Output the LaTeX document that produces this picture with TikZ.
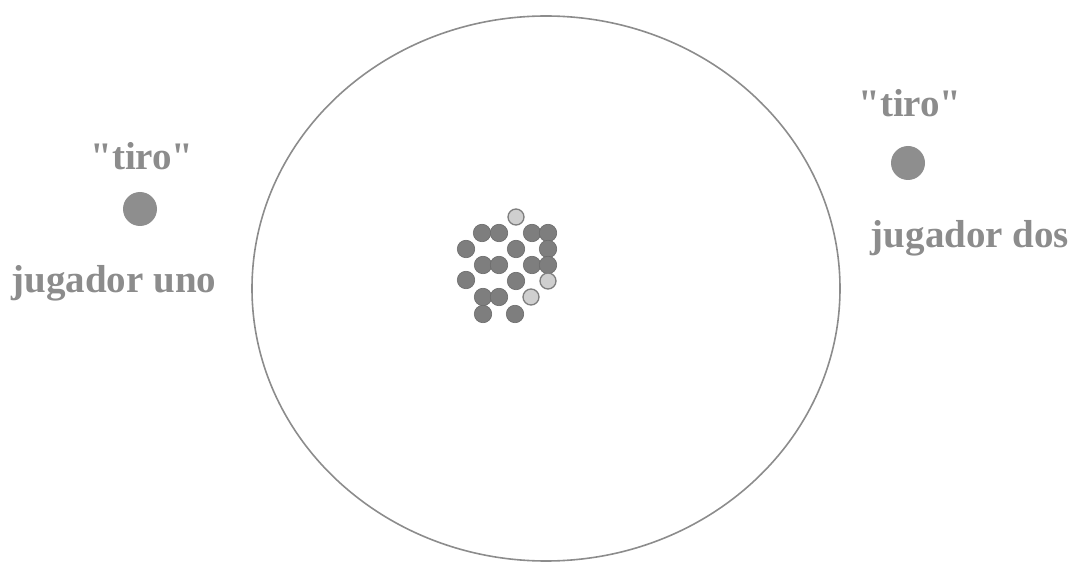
\documentclass[tikz,border=0pt]{standalone}
\usepackage{fontspec}
\setmainfont{Liberation Serif}
\definecolor{txtgray}{HTML}{8C8C8C}
\definecolor{dotgray}{HTML}{8E8E8E}
\definecolor{mdark}{HTML}{7E7E7E}
\definecolor{mlight}{HTML}{CFCFCF}
\begin{document}
\begin{tikzpicture}[x=1pt,y=-1pt,
  lbl/.style={text=txtgray,font=\fontsize{39}{40}\selectfont\bfseries,inner sep=0pt},
  shot/.style={circle,fill=dotgray,minimum size=34pt,inner sep=0pt},
  mdk/.style={circle,fill=mdark,draw=mdark!85!black,line width=0.6pt,minimum size=17.5pt,inner sep=0pt},
  mlt/.style={circle,fill=mlight,draw=mdark,line width=1.3pt,minimum size=16pt,inner sep=0pt}]
\useasboundingbox (0,0) rectangle (1072,564);
\draw[gray!90,line width=1.6pt] (546,288.5) ellipse [x radius=294, y radius=272.5];
% player one
\node[lbl] (t1) at (142,156) {\textquotedbl tiro\textquotedbl};
\node[shot] (d1) at (140,209) {};
\node[lbl] (j1) at (114,283) {jugador uno};
% player two
\node[lbl] (t2) at (910,103) {\textquotedbl tiro\textquotedbl};
\node[shot] (d2) at (908,163) {};
\node[lbl] (j2) at (970,238) {jugador dos};
% marbles
\node[mlt] (m1) at (516,217) {};
\node[mdk] (m2) at (482,233) {};
\node[mdk] (m3) at (499,233) {};
\node[mdk] (m4) at (532,233) {};
\node[mdk] (m5) at (548,233) {};
\node[mdk] (m6) at (466,249) {};
\node[mdk] (m7) at (516,249) {};
\node[mdk] (m8) at (548,249) {};
\node[mdk] (m9) at (483,265) {};
\node[mdk] (m10) at (499,265) {};
\node[mdk] (m11) at (532,265) {};
\node[mdk] (m12) at (548,265) {};
\node[mdk] (m13) at (466,280) {};
\node[mdk] (m14) at (516,281) {};
\node[mlt] (m15) at (548,281) {};
\node[mdk] (m16) at (483,297) {};
\node[mdk] (m17) at (499,297) {};
\node[mlt] (m18) at (531,297) {};
\node[mdk] (m19) at (483,314) {};
\node[mdk] (m20) at (515,314) {};
\end{tikzpicture}
\end{document}
